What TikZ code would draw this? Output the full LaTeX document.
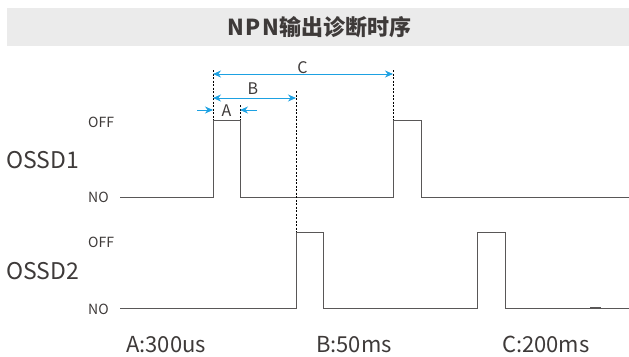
\documentclass[tikz,border=0pt]{standalone}
\usepackage{fontspec}
\setmainfont{Noto Sans CJK SC}
\usetikzlibrary{arrows.meta}
\definecolor{linegray}{HTML}{595757}
\definecolor{textgray}{HTML}{3E3A39}
\definecolor{barbg}{HTML}{EBEBEB}
\definecolor{dimblue}{HTML}{1DA1E2}

\begin{document}
\begin{tikzpicture}[x=1pt,y=-1pt,>={Stealth[length=8pt,width=7pt]},signal/.style={linegray, line width=1pt},guide/.style={black, line width=0.6pt, dash pattern=on 2pt off 1.5pt},dim/.style={<->, dimblue, line width=1pt},dimin/.style={->, dimblue, line width=1pt},level/.style={text=textgray, font=\fontsize{14}{16}\selectfont, anchor=base west, inner sep=0pt},chan/.style={text=textgray, font=\fontsize{23}{25}\selectfont, anchor=base west, inner sep=0pt},dimlabel/.style={text=textgray, font=\fontsize{16}{18}\selectfont, anchor=base, inner sep=0pt},note/.style={text=textgray, font=\fontsize{22}{24}\selectfont, anchor=base west, inner sep=0pt}]
\useasboundingbox (0,0) rectangle (629,356);
\fill[barbg] (7,8) rectangle (629,46);
\node[text=textgray, font=\fontsize{22}{24}\selectfont\bfseries] (title) at (319.5,27.5) {N\kern1.5pt P\kern1.5pt N\kern1pt 输出诊断时序};
% waveforms
\draw[signal] (120,197) -- (213,197) -- (213,120) -- (240,120) -- (240,197) -- (393,197) -- (393,120) -- (421,120) -- (421,197) -- (629,197);
\draw[signal] (120,308) -- (296,308) -- (296,232) -- (323,232) -- (323,308) -- (477,308) -- (477,232) -- (505,232) -- (505,308) -- (629,308);
\draw[linegray, line width=1.6pt] (590,308) -- (601,308);
% timing marks
\coordinate (t0) at (213,70); \coordinate (t0a) at (213,120);
\coordinate (tA) at (240,105); \coordinate (tAa) at (240,120);
\coordinate (tB) at (296,91); \coordinate (tBa) at (296,232);
\coordinate (tC) at (393,70); \coordinate (tCa) at (393,120);
\draw[guide] (t0) -- (t0a); \draw[guide] (tA) -- (tAa); \draw[guide] (tB) -- (tBa); \draw[guide] (tC) -- (tCa);
\coordinate (cL) at (213,74); \coordinate (cR) at (393,74);
\coordinate (bL) at (213,98); \coordinate (bR) at (296,98);
\coordinate (aL) at (213,110); \coordinate (aR) at (240,110);
\coordinate (aLin) at (197,110); \coordinate (aRin) at (257,110);
\draw[dim] (cL) -- (cR); \draw[dim] (bL) -- (bR);
\draw[dimin] (aLin) -- (aL); \draw[dimin] (aRin) -- (aR);
\node[dimlabel] (labC) at (302.5,73) {C};
\node[dimlabel] (labB) at (253,94) {B};
\node[dimlabel] (labA) at (226.5,116) {A};
% levels and channels
\node[level] (off1) at (88,127) {OFF}; \node[level] (no1) at (88,202) {NO};
\node[level] (off2) at (88,247) {OFF}; \node[level] (no2) at (88,314) {NO};
\node[chan] (ossd1) at (6,168) {OSSD1}; \node[chan] (ossd2) at (6,279) {OSSD2};
% times
\node[note] (tmA) at (126,352.5) {A:300us};
\node[note] (tmB) at (316,352.5) {B:50ms};
\node[note] (tmC) at (502,352.5) {C:200ms};
\end{tikzpicture}
\end{document}
